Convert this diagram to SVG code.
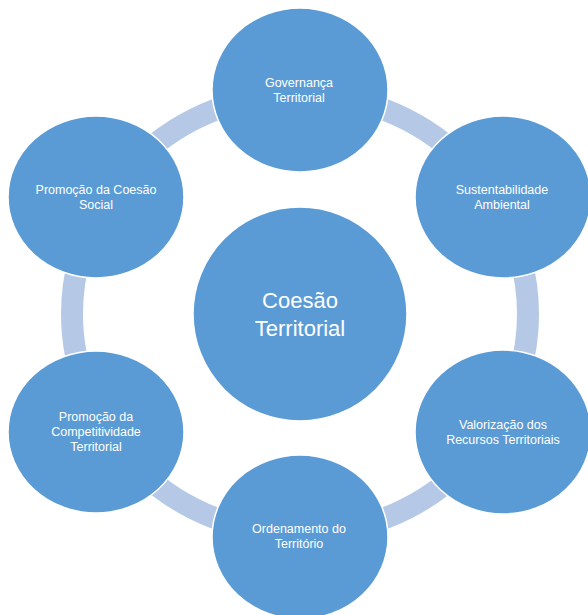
<svg xmlns="http://www.w3.org/2000/svg" width="588" height="615" viewBox="0 0 588 615">
<style>
.node{fill:#5b9bd5;stroke:#ffffff;stroke-width:1.5}
.lbl{fill:#ffffff;font-family:"Liberation Sans",Arial,sans-serif;font-size:12.5px;text-anchor:middle}
.big{fill:#ffffff;font-family:"Liberation Sans",Arial,sans-serif;font-size:22px;text-anchor:middle}
.ring{fill:none;stroke:#b5c9e7;stroke-width:22}
</style>
<rect width="588" height="615" fill="#ffffff"/>
<g id="connectors">
<ellipse class="ring" cx="300" cy="314" rx="228" ry="220"/>
</g>
<g id="center">
<circle class="node" cx="300" cy="314" r="107"/>
<text class="big" x="300" y="308">Coesão</text>
<text class="big" x="300" y="336">Territorial</text>
</g>
<g id="governanca">
<ellipse class="node" cx="300" cy="90" rx="88" ry="82"/>
<text class="lbl" x="299" y="87">Governança</text>
<text class="lbl" x="299" y="102">Territorial</text>
</g>
<g id="sustentabilidade">
<ellipse class="node" cx="503" cy="197" rx="88" ry="81"/>
<text class="lbl" x="502" y="194">Sustentabilidade</text>
<text class="lbl" x="502" y="209">Ambiental</text>
</g>
<g id="valorizacao">
<ellipse class="node" cx="503" cy="432" rx="88" ry="82"/>
<text class="lbl" x="503" y="429">Valorização dos</text>
<text class="lbl" x="503" y="444">Recursos Territoriais</text>
</g>
<g id="ordenamento">
<ellipse class="node" cx="300" cy="537" rx="88" ry="82"/>
<text class="lbl" x="299" y="533">Ordenamento do</text>
<text class="lbl" x="299" y="548">Território</text>
</g>
<g id="competitividade">
<ellipse class="node" cx="96" cy="432" rx="88" ry="81"/>
<text class="lbl" x="96" y="421">Promoção da</text>
<text class="lbl" x="96" y="436">Competitividade</text>
<text class="lbl" x="96" y="451">Territorial</text>
</g>
<g id="coesao-social">
<ellipse class="node" cx="96" cy="197" rx="88" ry="81"/>
<text class="lbl" x="96" y="194">Promoção da Coesão</text>
<text class="lbl" x="96" y="209">Social</text>
</g>
</svg>
